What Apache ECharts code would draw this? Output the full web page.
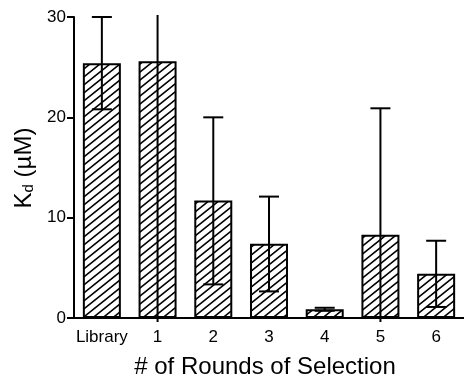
<!DOCTYPE html>
<html>
<head>
<meta charset="utf-8">
<script src="https://cdn.jsdelivr.net/npm/echarts@6/dist/echarts.min.js"></script>
<style>html,body{margin:0;padding:0;background:#fff;}#c{width:464px;height:377px;}</style>
</head>
<body>
<div id="c"></div>
<script>
var categories = ['Library', '1', '2', '3', '4', '5', '6'];
var kdValues = [25.4, 25.6, 11.7, 7.4, 0.87, 8.3, 4.4];
var errLow = [20.8, -2, 3.35, 2.65, 0.72, -3, 1.1];
var errHigh = [30, 34, 20, 12.1, 1.02, 20.9, 7.7];
var yTicks = [0, 10, 20, 30];

var FONT = '"Liberation Sans", Arial, sans-serif';

function makeHatch() {
  var W = 10, H = 8;
  var cv = document.createElement('canvas');
  cv.width = W; cv.height = H;
  var ctx = cv.getContext('2d');
  ctx.fillStyle = '#fff';
  ctx.fillRect(0, 0, W, H);
  ctx.strokeStyle = '#000';
  ctx.lineWidth = 1.6;
  ctx.beginPath();
  ctx.moveTo(-W, 2 * H); ctx.lineTo(2 * W, -H);
  ctx.moveTo(-2 * W, 2 * H); ctx.lineTo(W, -H);
  ctx.moveTo(0, 2 * H); ctx.lineTo(3 * W, -H);
  ctx.stroke();
  return cv;
}

var chart = echarts.init(document.getElementById('c'), null, {renderer: 'canvas'});
var yMin = yTicks[0], yMax = yTicks[yTicks.length - 1];

var option = {
  animation: false,
  backgroundColor: '#fff',
  grid: {left: 74, top: 17, bottom: 59, width: 399, containLabel: false},
  xAxis: {
    type: 'category',
    data: categories,
    axisLine: {show: true, lineStyle: {color: '#000', width: 2}},
    axisTick: {show: false},
    axisLabel: {color: '#000', fontFamily: FONT, fontSize: 17, margin: 11, interval: 0}
  },
  yAxis: {
    type: 'value',
    min: yMin, max: yMax, interval: 10,
    axisLine: {show: true, lineStyle: {color: '#000', width: 2}},
    axisTick: {show: true, length: 7, lineStyle: {color: '#000', width: 2}},
    axisLabel: {color: '#000', fontFamily: FONT, fontSize: 17, margin: 8},
    splitLine: {show: false}
  },
  graphic: [
    {type: 'text', x: 265, y: 367, style: {
      text: '# of Rounds of Selection', fill: '#000', font: '24px ' + FONT,
      textAlign: 'center', textVerticalAlign: 'middle'}},
    {type: 'text', x: 24, y: 168, rotation: Math.PI / 2, style: {
      rich: {
        a: {fontFamily: FONT, fontSize: 24, fill: '#000'},
        b: {fontFamily: FONT, fontSize: 15, fill: '#000', padding: [9, 0, 0, 0]}
      },
      text: '{a|K}{b|d}{a| (µM)}', align: 'center', verticalAlign: 'middle'}}
  ],
  series: [
    {
      type: 'bar',
      data: kdValues,
      barWidth: 38,
      itemStyle: {
        color: {image: makeHatch(), repeat: 'repeat'},
        borderColor: '#000', borderWidth: 2
      },
      z: 2
    },
    {
      type: 'custom',
      z: 5,
      clip: false,
      data: categories.map(function (c, i) { return [i, errLow[i], errHigh[i]]; }),
      renderItem: function (params, api) {
        var i = api.value(0), lo = api.value(1), hi = api.value(2);
        var topCap = hi <= yMax, botCap = lo >= yMin;
        var pTop = api.coord([i, Math.min(hi, yMax)]);
        var pBot = api.coord([i, Math.max(lo, yMin)]);
        var x = pTop[0];
        var yT = topCap ? pTop[1] : pTop[1] - 2;
        var yB = botCap ? pBot[1] : pBot[1] + 4;
        var st = {stroke: '#000', lineWidth: 2};
        var kids = [{type: 'line', shape: {x1: x, y1: yT, x2: x, y2: yB}, style: st}];
        var hw = 10;
        if (topCap) kids.push({type: 'line', shape: {x1: x - hw, y1: pTop[1], x2: x + hw, y2: pTop[1]}, style: st});
        if (botCap) kids.push({type: 'line', shape: {x1: x - hw, y1: pBot[1], x2: x + hw, y2: pBot[1]}, style: st});
        return {type: 'group', children: kids};
      }
    }
  ]
};
chart.setOption(option);
</script>
</body>
</html>
